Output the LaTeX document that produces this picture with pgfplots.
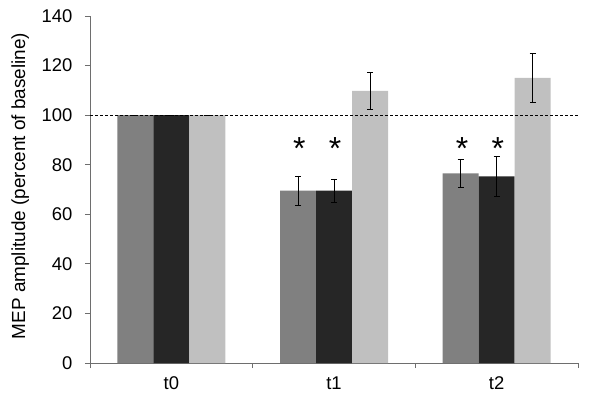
\documentclass[border=0pt]{standalone}
\usepackage{pgfplots}
\pgfplotsset{compat=1.18}
\usepackage{fontspec}
\setmainfont{Liberation Sans}
\definecolor{cA}{RGB}{128,128,128}
\definecolor{cB}{RGB}{38,38,38}
\definecolor{cC}{RGB}{192,192,192}
\definecolor{axc}{RGB}{110,110,110}
\begin{document}
\begin{tikzpicture}
\useasboundingbox (0,0) rectangle (600bp,409bp);
\begin{axis}[
  at={(90bp,46bp)}, anchor=south west,
  width=488bp, height=347bp, scale only axis,
  ybar=0pt, bar width=36bp,
  xmin=-0.5, xmax=2.5, ymin=0, ymax=140,
  axis lines*=left,
  axis line style={axc, line width=0.8pt},
  ytick={0,20,...,140},
  xtick={0,1,2}, xticklabels={t0,t1,t2},
  minor xtick={-0.5,0.5,1.5,2.5},
  tick align=outside,
  major tick length=5bp, minor tick length=5bp,
  x tick style={draw=none},
  minor x tick style={draw=axc, line width=0.8pt},
  y tick style={axc, line width=0.8pt},
  tick label style={font=\fontsize{18.5}{20}\selectfont},
  /pgf/number format/assume math mode=true,
  yticklabel style={xshift=-9bp},
  ylabel={MEP amplitude (percent of baseline)},
  ylabel style={font=\fontsize{19}{21}\selectfont, at={(axis description cs:-0.143,0.51)}, anchor=center},
  xticklabel style={yshift=-5bp},
  clip=false,
  error bars/error bar style={black, line width=0.6pt},
  error bars/error mark options={rotate=90, mark size=3bp, line width=0.6pt, black},
]
\addplot[fill=cA, draw=none, error bars/.cd, y dir=both, y explicit]
  coordinates {(0,100) +- (0,0) (1,69.5) +- (0,6) (2,76.5) +- (0,5.7)};
\addplot[fill=cB, draw=none, error bars/.cd, y dir=both, y explicit]
  coordinates {(0,100) +- (0,0) (1,69.5) +- (0,4.8) (2,75.3) +- (0,8)};
\addplot[fill=cC, draw=none, error bars/.cd, y dir=both, y explicit]
  coordinates {(0,100) +- (0,0) (1,109.8) +- (0,7.5) (2,115) +- (0,9.8)};
\draw[black, line width=0.6pt, dash pattern=on 3bp off 2bp] (axis cs:-0.5,100) -- (axis cs:2.5,100);
\node[font=\fontsize{32}{33}\selectfont] at (axis cs:0.787,86.5) {*};
\node[font=\fontsize{32}{33}\selectfont] at (axis cs:1.007,86.5) {*};
\node[font=\fontsize{32}{33}\selectfont] at (axis cs:1.787,86.5) {*};
\node[font=\fontsize{32}{33}\selectfont] at (axis cs:2.007,86.5) {*};
\end{axis}
\end{tikzpicture}
\end{document}
